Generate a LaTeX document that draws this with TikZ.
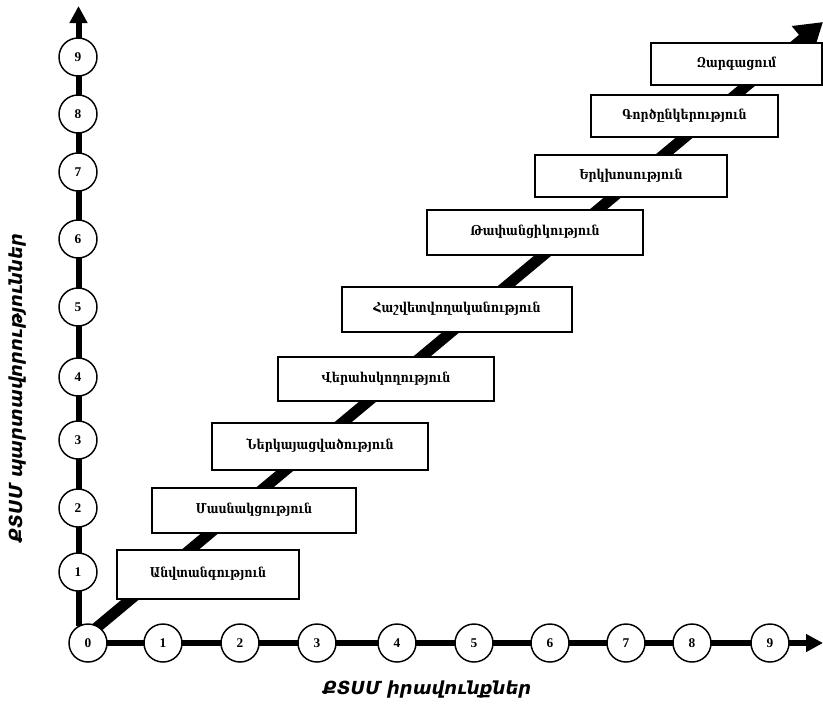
\documentclass[tikz,border=0pt]{standalone}
\usepackage{fontspec}
\setmainfont{DejaVu Serif}
\newfontfamily\stagefont[FakeStretch=0.82]{DejaVu Serif Bold}
\newfontfamily\armsans{DejaVu Sans}
\newfontfamily\numfont{Liberation Serif}
\usetikzlibrary{arrows.meta}
\begin{document}
\begin{tikzpicture}[x=0.75pt,y=-0.75pt,
  stage/.style={draw=black, line width=1.5pt, fill=white, inner sep=0pt,
    font=\stagefont\fontsize{10.2}{12}\selectfont},
  num/.style={circle, draw=black, line width=1.1pt, fill=white, minimum size=28.5pt,
    inner sep=0pt, font=\numfont\bfseries\fontsize{10}{12}\selectfont},
  axis/.style={line width=4.5pt, -{Triangle[length=12.75pt,width=12.75pt]}},
  diag/.style={line width=8.25pt, -{Triangle[length=20pt,width=24pt]}},
  axlabel/.style={font=\armsans\bfseries\itshape\fontsize{13.5}{15}\selectfont}]
\useasboundingbox (0,0) rectangle (823,704);
% axes and diagonal (behind)
\coordinate (yo) at (78.5,626);
\coordinate (ytip) at (78.5,6);
\coordinate (xo) at (88,643);
\coordinate (xtip) at (823,643);
\coordinate (ds) at (95,629);
\coordinate (de) at (823,22);
\draw[axis] (yo) -- (ytip);
\draw[axis] (xo) -- (xtip);
\draw[diag] (ds) -- (de);
% stage boxes
\node[stage, minimum width=136.5pt, minimum height=36.75pt] (b1) at (208,574.5) {\raisebox{3pt}{Անվտանգություն}};
\node[stage, minimum width=153pt, minimum height=33.75pt] (b2) at (254,510.5) {\raisebox{3pt}{Մասնակցություն}};
\node[stage, minimum width=162pt, minimum height=35.25pt] (b3) at (320,446.5) {\raisebox{3pt}{Ներկայացվածություն}};
\node[stage, minimum width=162pt, minimum height=33pt] (b4) at (386,379) {\raisebox{3pt}{Վերահսկողություն}};
\node[stage, minimum width=172.5pt, minimum height=33.75pt] (b5) at (457,309.5) {\raisebox{3pt}{Հաշվետվողականություն}};
\node[stage, minimum width=162pt, minimum height=33.75pt] (b6) at (535,232.5) {\raisebox{3pt}{Թափանցիկություն}};
\node[stage, minimum width=144pt, minimum height=31.5pt] (b7) at (631,176) {\raisebox{3pt}{Երկխոսություն}};
\node[stage, minimum width=140.25pt, minimum height=31.5pt] (b8) at (684.5,116) {\raisebox{3pt}{Գործընկերություն}};
\node[stage, minimum width=128.25pt, minimum height=31.5pt] (b9) at (736.5,64) {\raisebox{3pt}{Զարգացում}};
% circles on y axis
\node[num] (y1) at (78,572) {1};
\node[num] (y2) at (78,508) {2};
\node[num] (y3) at (78,440) {3};
\node[num] (y4) at (78,377) {4};
\node[num] (y5) at (78,307) {5};
\node[num] (y6) at (78,239) {6};
\node[num] (y7) at (78,172) {7};
\node[num] (y8) at (78,114) {8};
\node[num] (y9) at (78,57) {9};
% circles on x axis
\node[num] (x0) at (88,643) {0};
\node[num] (x1) at (163,643) {1};
\node[num] (x2) at (240,643) {2};
\node[num] (x3) at (317,643) {3};
\node[num] (x4) at (397,643) {4};
\node[num] (x5) at (474,643) {5};
\node[num] (x6) at (550,643) {6};
\node[num] (x7) at (626,643) {7};
\node[num] (x8) at (692,643) {8};
\node[num] (x9) at (770,643) {9};
% axis labels
\node[axlabel] (xl) at (427,690) {ՔՏՍՄ իրավունքներ};
\node[axlabel, rotate=90] (yl) at (18,388) {ՔՏՍՄ պարտավորություններ};
\end{tikzpicture}
\end{document}
